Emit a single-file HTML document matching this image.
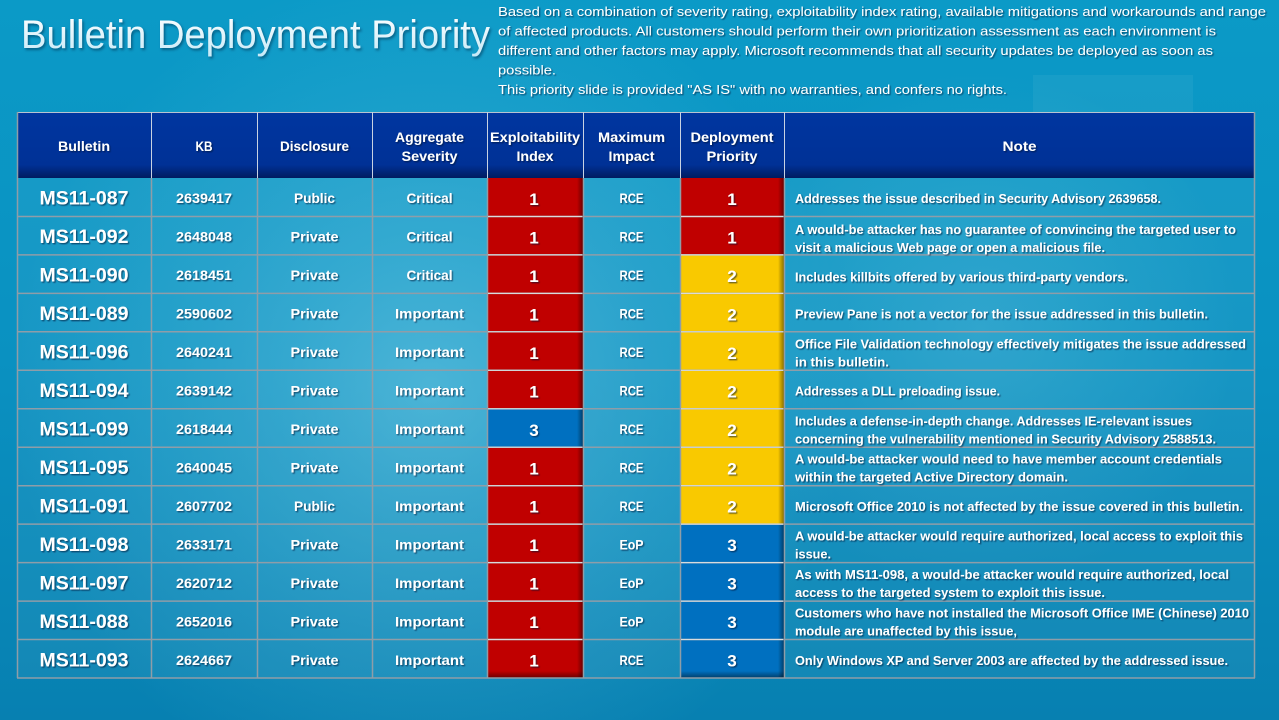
<!DOCTYPE html>
<html><head><meta charset="utf-8"><style>
html,body{margin:0;padding:0;background:#0a92c2;}
svg{display:block;}
</style></head><body>
<svg width="1279" height="720" viewBox="0 0 1279 720" xmlns="http://www.w3.org/2000/svg">
<defs>
<linearGradient id="bg" x1="0" y1="0" x2="0" y2="1">
<stop offset="0" stop-color="#0b9ac7"/><stop offset="0.5" stop-color="#0a91c1"/><stop offset="1" stop-color="#0780b1"/>
</linearGradient>
<radialGradient id="glow" cx="430" cy="390" r="420" gradientUnits="userSpaceOnUse">
<stop offset="0" stop-color="#9fe6f7" stop-opacity="0.38"/><stop offset="0.6" stop-color="#7fd8f0" stop-opacity="0.15"/><stop offset="1" stop-color="#7fd8f0" stop-opacity="0"/>
</radialGradient>
<radialGradient id="glow2" cx="980" cy="330" r="260" gradientUnits="userSpaceOnUse">
<stop offset="0" stop-color="#9fe6f7" stop-opacity="0.18"/><stop offset="1" stop-color="#9fe6f7" stop-opacity="0"/>
</radialGradient>
<linearGradient id="hdr" x1="0" y1="0" x2="0" y2="1">
<stop offset="0" stop-color="#0036a0"/><stop offset="0.8" stop-color="#003196"/><stop offset="1" stop-color="#001c60"/>
</linearGradient>
<linearGradient id="title" x1="0" y1="0" x2="0" y2="1">
<stop offset="0" stop-color="#ffffff"/><stop offset="1" stop-color="#c4e9f7"/>
</linearGradient>
<linearGradient id="rsh" x1="0" y1="0" x2="1" y2="0">
<stop offset="0" stop-color="#000" stop-opacity="0"/><stop offset="1" stop-color="#000" stop-opacity="0.45"/>
</linearGradient>
<linearGradient id="bsh" x1="0" y1="0" x2="0" y2="1">
<stop offset="0" stop-color="#000" stop-opacity="0"/><stop offset="1" stop-color="#000" stop-opacity="0.45"/>
</linearGradient>
<filter id="sh" x="-5%" y="-30%" width="110%" height="160%">
<feDropShadow dx="1.2" dy="1.2" stdDeviation="0.5" flood-color="#001830" flood-opacity="0.6"/>
</filter>
<filter id="tsh" x="-5%" y="-30%" width="110%" height="160%">
<feDropShadow dx="1.5" dy="2" stdDeviation="1.2" flood-color="#003050" flood-opacity="0.55"/>
</filter>
</defs>

<!-- background -->
<rect x="0" y="0" width="1279" height="720" fill="url(#bg)"/>
<rect x="0" y="0" width="1279" height="720" fill="url(#glow)"/>
<rect x="0" y="0" width="1279" height="720" fill="url(#glow2)"/>
<rect x="1033" y="75" width="160" height="60" fill="#ffffff" fill-opacity="0.05"/>

<!-- title -->
<text x="21" y="48" font-family="Liberation Sans, sans-serif" font-size="40" fill="url(#title)" textLength="469" lengthAdjust="spacingAndGlyphs" filter="url(#tsh)">Bulletin Deployment Priority</text>

<!-- paragraph -->
<g font-family="Liberation Sans, sans-serif" font-size="13" fill="#ffffff" filter="url(#sh)" lengthAdjust="spacingAndGlyphs">
<text x="498" y="16" textLength="768" lengthAdjust="spacingAndGlyphs">Based on a combination of severity rating, exploitability index rating, available mitigations and workarounds and range</text>
<text x="498" y="35.5" textLength="718" lengthAdjust="spacingAndGlyphs">of affected products. All customers should perform their own prioritization assessment as each environment is</text>
<text x="498" y="55" textLength="715" lengthAdjust="spacingAndGlyphs">different and other factors may apply. Microsoft recommends that all security updates be deployed as soon as</text>
<text x="498" y="74.5" textLength="58" lengthAdjust="spacingAndGlyphs">possible.</text>
<text x="498" y="94" textLength="509" lengthAdjust="spacingAndGlyphs">This priority slide is provided "AS IS" with no warranties, and confers no rights.</text>
</g>

<!-- table body cell tint -->
<rect x="17" y="178" width="1238" height="500" fill="#ffffff" fill-opacity="0.05"/>

<!-- header -->
<rect x="17" y="112" width="1238" height="66" fill="url(#hdr)"/>
<line x1="17" y1="112.5" x2="1255" y2="112.5" stroke="#b8c4d0" stroke-width="1"/>
<g stroke="#c8d2e2" stroke-width="1">
<line x1="151.5" y1="112" x2="151.5" y2="178"/>
<line x1="257.5" y1="112" x2="257.5" y2="178"/>
<line x1="372.5" y1="112" x2="372.5" y2="178"/>
<line x1="487.5" y1="112" x2="487.5" y2="178"/>
<line x1="583.5" y1="112" x2="583.5" y2="178"/>
<line x1="680.5" y1="112" x2="680.5" y2="178"/>
<line x1="784.5" y1="112" x2="784.5" y2="178"/>
</g>

<!-- colored cells: exploitability (x 487-583) and deployment (x 680-784) -->
<g>
<!-- exploitability -->
<rect x="487" y="178" width="96" height="38.5" fill="#c00000"/>
<rect x="487" y="216.5" width="96" height="38.4" fill="#c00000"/>
<rect x="487" y="254.9" width="96" height="38.5" fill="#c00000"/>
<rect x="487" y="293.4" width="96" height="38.4" fill="#c00000"/>
<rect x="487" y="331.8" width="96" height="38.5" fill="#c00000"/>
<rect x="487" y="370.3" width="96" height="38.5" fill="#c00000"/>
<rect x="487" y="408.8" width="96" height="38.4" fill="#0070c0"/>
<rect x="487" y="447.2" width="96" height="38.5" fill="#c00000"/>
<rect x="487" y="485.7" width="96" height="38.4" fill="#c00000"/>
<rect x="487" y="524.1" width="96" height="38.5" fill="#c00000"/>
<rect x="487" y="562.6" width="96" height="38.5" fill="#c00000"/>
<rect x="487" y="601.1" width="96" height="38.4" fill="#c00000"/>
<rect x="487" y="639.5" width="96" height="38.5" fill="#c00000"/>
<rect x="577" y="178" width="6" height="500" fill="url(#rsh)"/>
<rect x="487" y="671" width="96" height="7" fill="url(#bsh)"/>
<!-- deployment -->
<rect x="680" y="178" width="104" height="77" fill="#c00000"/>
<rect x="680" y="254.9" width="104" height="269.2" fill="#f9c900"/>
<rect x="680" y="524.1" width="104" height="153.9" fill="#0070c0"/>
<rect x="778" y="178" width="6" height="500" fill="url(#rsh)"/>
<rect x="680" y="671" width="104" height="7" fill="url(#bsh)"/>
</g>

<!-- gray grid -->
<g stroke="#8f9da8" stroke-width="1.5">
<line x1="17" y1="216.5" x2="1255" y2="216.5"/>
<line x1="17" y1="254.9" x2="1255" y2="254.9"/>
<line x1="17" y1="293.4" x2="1255" y2="293.4"/>
<line x1="17" y1="331.8" x2="1255" y2="331.8"/>
<line x1="17" y1="370.3" x2="1255" y2="370.3"/>
<line x1="17" y1="408.8" x2="1255" y2="408.8"/>
<line x1="17" y1="447.2" x2="1255" y2="447.2"/>
<line x1="17" y1="485.7" x2="1255" y2="485.7"/>
<line x1="17" y1="524.1" x2="1255" y2="524.1"/>
<line x1="17" y1="562.6" x2="1255" y2="562.6"/>
<line x1="17" y1="601.1" x2="1255" y2="601.1"/>
<line x1="17" y1="639.5" x2="1255" y2="639.5"/>
<line x1="17" y1="678" x2="1255" y2="678"/>
<line x1="17.5" y1="178" x2="17.5" y2="678"/>
<line x1="151.5" y1="178" x2="151.5" y2="678"/>
<line x1="257.5" y1="178" x2="257.5" y2="678"/>
<line x1="372.5" y1="178" x2="372.5" y2="678"/>
<line x1="487.5" y1="178" x2="487.5" y2="678"/>
<line x1="583.5" y1="178" x2="583.5" y2="678"/>
<line x1="680.5" y1="178" x2="680.5" y2="678"/>
<line x1="784.5" y1="178" x2="784.5" y2="678"/>
<line x1="1254.5" y1="112" x2="1254.5" y2="678"/>
<line x1="17.5" y1="112" x2="17.5" y2="178"/>
</g>
<!-- light separators in colored columns -->
<g stroke="#e6e6e6" stroke-width="1.2" stroke-opacity="0.85">
<line x1="488" y1="216.5" x2="582" y2="216.5"/><line x1="681" y1="216.5" x2="783" y2="216.5"/>
<line x1="488" y1="254.9" x2="582" y2="254.9"/><line x1="681" y1="254.9" x2="783" y2="254.9"/>
<line x1="488" y1="293.4" x2="582" y2="293.4"/><line x1="681" y1="293.4" x2="783" y2="293.4"/>
<line x1="488" y1="331.8" x2="582" y2="331.8"/><line x1="681" y1="331.8" x2="783" y2="331.8"/>
<line x1="488" y1="370.3" x2="582" y2="370.3"/><line x1="681" y1="370.3" x2="783" y2="370.3"/>
<line x1="488" y1="408.8" x2="582" y2="408.8"/><line x1="681" y1="408.8" x2="783" y2="408.8"/>
<line x1="488" y1="447.2" x2="582" y2="447.2"/><line x1="681" y1="447.2" x2="783" y2="447.2"/>
<line x1="488" y1="485.7" x2="582" y2="485.7"/><line x1="681" y1="485.7" x2="783" y2="485.7"/>
<line x1="488" y1="524.1" x2="582" y2="524.1"/><line x1="681" y1="524.1" x2="783" y2="524.1"/>
<line x1="488" y1="562.6" x2="582" y2="562.6"/><line x1="681" y1="562.6" x2="783" y2="562.6"/>
<line x1="488" y1="601.1" x2="582" y2="601.1"/><line x1="681" y1="601.1" x2="783" y2="601.1"/>
<line x1="488" y1="639.5" x2="582" y2="639.5"/><line x1="681" y1="639.5" x2="783" y2="639.5"/>
</g>

<!-- header text -->
<g font-family="Liberation Sans, sans-serif" font-size="14" font-weight="bold" fill="#ffffff" text-anchor="middle" filter="url(#sh)">
<text x="84" y="151" textLength="52" lengthAdjust="spacingAndGlyphs">Bulletin</text>
<text x="204" y="151" textLength="17" lengthAdjust="spacingAndGlyphs">KB</text>
<text x="314.5" y="151" textLength="69" lengthAdjust="spacingAndGlyphs">Disclosure</text>
<text x="429.5" y="142" textLength="69" lengthAdjust="spacingAndGlyphs">Aggregate</text>
<text x="429.5" y="161" textLength="56" lengthAdjust="spacingAndGlyphs">Severity</text>
<text x="535" y="142" textLength="90" lengthAdjust="spacingAndGlyphs">Exploitability</text>
<text x="535" y="161" textLength="37" lengthAdjust="spacingAndGlyphs">Index</text>
<text x="631.5" y="142" textLength="67" lengthAdjust="spacingAndGlyphs">Maximum</text>
<text x="631.5" y="161" textLength="46" lengthAdjust="spacingAndGlyphs">Impact</text>
<text x="732" y="142" textLength="83" lengthAdjust="spacingAndGlyphs">Deployment</text>
<text x="732" y="161" textLength="51" lengthAdjust="spacingAndGlyphs">Priority</text>
<text x="1019.5" y="151" textLength="34" lengthAdjust="spacingAndGlyphs">Note</text>
</g>

<!-- bulletin column -->
<g font-family="Liberation Sans, sans-serif" font-size="19" font-weight="bold" fill="#ffffff" text-anchor="middle" filter="url(#sh)">
<text x="84" y="204.7" textLength="89" lengthAdjust="spacingAndGlyphs">MS11-087</text>
<text x="84" y="243.2" textLength="89" lengthAdjust="spacingAndGlyphs">MS11-092</text>
<text x="84" y="281.7" textLength="89" lengthAdjust="spacingAndGlyphs">MS11-090</text>
<text x="84" y="320.1" textLength="89" lengthAdjust="spacingAndGlyphs">MS11-089</text>
<text x="84" y="358.6" textLength="89" lengthAdjust="spacingAndGlyphs">MS11-096</text>
<text x="84" y="397.0" textLength="89" lengthAdjust="spacingAndGlyphs">MS11-094</text>
<text x="84" y="435.5" textLength="89" lengthAdjust="spacingAndGlyphs">MS11-099</text>
<text x="84" y="474.0" textLength="89" lengthAdjust="spacingAndGlyphs">MS11-095</text>
<text x="84" y="512.4" textLength="89" lengthAdjust="spacingAndGlyphs">MS11-091</text>
<text x="84" y="550.9" textLength="89" lengthAdjust="spacingAndGlyphs">MS11-098</text>
<text x="84" y="589.3" textLength="89" lengthAdjust="spacingAndGlyphs">MS11-097</text>
<text x="84" y="627.8" textLength="89" lengthAdjust="spacingAndGlyphs">MS11-088</text>
<text x="84" y="666.3" textLength="89" lengthAdjust="spacingAndGlyphs">MS11-093</text>
</g>

<!-- KB / disclosure / severity / impact -->
<g font-family="Liberation Sans, sans-serif" font-size="14" font-weight="bold" fill="#ffffff" text-anchor="middle" filter="url(#sh)">
<text x="204" y="203.2" textLength="56" lengthAdjust="spacingAndGlyphs">2639417</text>
<text x="314.5" y="203.2" textLength="41" lengthAdjust="spacingAndGlyphs">Public</text>
<text x="429.5" y="203.2" textLength="46" lengthAdjust="spacingAndGlyphs">Critical</text>
<text x="631.5" y="203.2" textLength="24" lengthAdjust="spacingAndGlyphs">RCE</text>

<text x="204" y="241.7" textLength="56" lengthAdjust="spacingAndGlyphs">2648048</text>
<text x="314.5" y="241.7" textLength="48" lengthAdjust="spacingAndGlyphs">Private</text>
<text x="429.5" y="241.7" textLength="46" lengthAdjust="spacingAndGlyphs">Critical</text>
<text x="631.5" y="241.7" textLength="24" lengthAdjust="spacingAndGlyphs">RCE</text>

<text x="204" y="280.2" textLength="56" lengthAdjust="spacingAndGlyphs">2618451</text>
<text x="314.5" y="280.2" textLength="48" lengthAdjust="spacingAndGlyphs">Private</text>
<text x="429.5" y="280.2" textLength="46" lengthAdjust="spacingAndGlyphs">Critical</text>
<text x="631.5" y="280.2" textLength="24" lengthAdjust="spacingAndGlyphs">RCE</text>

<text x="204" y="318.6" textLength="56" lengthAdjust="spacingAndGlyphs">2590602</text>
<text x="314.5" y="318.6" textLength="48" lengthAdjust="spacingAndGlyphs">Private</text>
<text x="429.5" y="318.6" textLength="69" lengthAdjust="spacingAndGlyphs">Important</text>
<text x="631.5" y="318.6" textLength="24" lengthAdjust="spacingAndGlyphs">RCE</text>

<text x="204" y="357.1" textLength="56" lengthAdjust="spacingAndGlyphs">2640241</text>
<text x="314.5" y="357.1" textLength="48" lengthAdjust="spacingAndGlyphs">Private</text>
<text x="429.5" y="357.1" textLength="69" lengthAdjust="spacingAndGlyphs">Important</text>
<text x="631.5" y="357.1" textLength="24" lengthAdjust="spacingAndGlyphs">RCE</text>

<text x="204" y="395.5" textLength="56" lengthAdjust="spacingAndGlyphs">2639142</text>
<text x="314.5" y="395.5" textLength="48" lengthAdjust="spacingAndGlyphs">Private</text>
<text x="429.5" y="395.5" textLength="69" lengthAdjust="spacingAndGlyphs">Important</text>
<text x="631.5" y="395.5" textLength="24" lengthAdjust="spacingAndGlyphs">RCE</text>

<text x="204" y="434.0" textLength="56" lengthAdjust="spacingAndGlyphs">2618444</text>
<text x="314.5" y="434.0" textLength="48" lengthAdjust="spacingAndGlyphs">Private</text>
<text x="429.5" y="434.0" textLength="69" lengthAdjust="spacingAndGlyphs">Important</text>
<text x="631.5" y="434.0" textLength="24" lengthAdjust="spacingAndGlyphs">RCE</text>

<text x="204" y="472.5" textLength="56" lengthAdjust="spacingAndGlyphs">2640045</text>
<text x="314.5" y="472.5" textLength="48" lengthAdjust="spacingAndGlyphs">Private</text>
<text x="429.5" y="472.5" textLength="69" lengthAdjust="spacingAndGlyphs">Important</text>
<text x="631.5" y="472.5" textLength="24" lengthAdjust="spacingAndGlyphs">RCE</text>

<text x="204" y="510.9" textLength="56" lengthAdjust="spacingAndGlyphs">2607702</text>
<text x="314.5" y="510.9" textLength="41" lengthAdjust="spacingAndGlyphs">Public</text>
<text x="429.5" y="510.9" textLength="69" lengthAdjust="spacingAndGlyphs">Important</text>
<text x="631.5" y="510.9" textLength="24" lengthAdjust="spacingAndGlyphs">RCE</text>

<text x="204" y="549.4" textLength="56" lengthAdjust="spacingAndGlyphs">2633171</text>
<text x="314.5" y="549.4" textLength="48" lengthAdjust="spacingAndGlyphs">Private</text>
<text x="429.5" y="549.4" textLength="69" lengthAdjust="spacingAndGlyphs">Important</text>
<text x="631.5" y="549.4" textLength="24" lengthAdjust="spacingAndGlyphs">EoP</text>

<text x="204" y="587.8" textLength="56" lengthAdjust="spacingAndGlyphs">2620712</text>
<text x="314.5" y="587.8" textLength="48" lengthAdjust="spacingAndGlyphs">Private</text>
<text x="429.5" y="587.8" textLength="69" lengthAdjust="spacingAndGlyphs">Important</text>
<text x="631.5" y="587.8" textLength="24" lengthAdjust="spacingAndGlyphs">EoP</text>

<text x="204" y="626.3" textLength="56" lengthAdjust="spacingAndGlyphs">2652016</text>
<text x="314.5" y="626.3" textLength="48" lengthAdjust="spacingAndGlyphs">Private</text>
<text x="429.5" y="626.3" textLength="69" lengthAdjust="spacingAndGlyphs">Important</text>
<text x="631.5" y="626.3" textLength="24" lengthAdjust="spacingAndGlyphs">EoP</text>

<text x="204" y="664.8" textLength="56" lengthAdjust="spacingAndGlyphs">2624667</text>
<text x="314.5" y="664.8" textLength="48" lengthAdjust="spacingAndGlyphs">Private</text>
<text x="429.5" y="664.8" textLength="69" lengthAdjust="spacingAndGlyphs">Important</text>
<text x="631.5" y="664.8" textLength="24" lengthAdjust="spacingAndGlyphs">RCE</text>
</g>

<!-- exploitability & deployment digits -->
<g font-family="Liberation Sans, sans-serif" font-size="17" font-weight="bold" fill="#ffffff" text-anchor="middle" filter="url(#sh)">
<text x="534" y="205">1</text><text x="732" y="205">1</text>
<text x="534" y="243.5">1</text><text x="732" y="243.5">1</text>
<text x="534" y="282">1</text><text x="732" y="282">2</text>
<text x="534" y="320.4">1</text><text x="732" y="320.4">2</text>
<text x="534" y="358.9">1</text><text x="732" y="358.9">2</text>
<text x="534" y="397.3">1</text><text x="732" y="397.3">2</text>
<text x="534" y="435.8">3</text><text x="732" y="435.8">2</text>
<text x="534" y="474.3">1</text><text x="732" y="474.3">2</text>
<text x="534" y="512.7">1</text><text x="732" y="512.7">2</text>
<text x="534" y="551.2">1</text><text x="732" y="551.2">3</text>
<text x="534" y="589.6">1</text><text x="732" y="589.6">3</text>
<text x="534" y="628.1">1</text><text x="732" y="628.1">3</text>
<text x="534" y="666.6">1</text><text x="732" y="666.6">3</text>
</g>

<!-- notes -->
<g font-family="Liberation Sans, sans-serif" font-size="13" font-weight="bold" fill="#ffffff" filter="url(#sh)">
<text x="795" y="203.2" textLength="366" lengthAdjust="spacingAndGlyphs">Addresses the issue described in Security Advisory 2639658.</text>
<text x="795" y="233.8" textLength="441" lengthAdjust="spacingAndGlyphs">A would-be attacker has no guarantee of convincing the targeted user to</text>
<text x="795" y="251.8" textLength="310" lengthAdjust="spacingAndGlyphs">visit a malicious Web page or open a malicious file.</text>
<text x="795" y="281.5" textLength="333" lengthAdjust="spacingAndGlyphs">Includes killbits offered by various third-party vendors.</text>
<text x="795" y="318.6" textLength="413" lengthAdjust="spacingAndGlyphs">Preview Pane is not a vector for the issue addressed in this bulletin.</text>
<text x="795" y="348.3" textLength="451" lengthAdjust="spacingAndGlyphs">Office File Validation technology effectively mitigates the issue addressed</text>
<text x="795" y="366.3" textLength="94" lengthAdjust="spacingAndGlyphs">in this bulletin.</text>
<text x="795" y="395.5" textLength="205" lengthAdjust="spacingAndGlyphs">Addresses a DLL preloading issue.</text>
<text x="795" y="425.6" textLength="397" lengthAdjust="spacingAndGlyphs">Includes a defense-in-depth change. Addresses IE-relevant issues</text>
<text x="795" y="443.6" textLength="421" lengthAdjust="spacingAndGlyphs">concerning the vulnerability mentioned in Security Advisory 2588513.</text>
<text x="795" y="463.5" textLength="427" lengthAdjust="spacingAndGlyphs">A would-be attacker would need to have member account credentials</text>
<text x="795" y="481.5" textLength="273" lengthAdjust="spacingAndGlyphs">within the targeted Active Directory domain.</text>
<text x="795" y="510.9" textLength="448" lengthAdjust="spacingAndGlyphs">Microsoft Office 2010  is not affected by the issue covered in this bulletin.</text>
<text x="795" y="540.4" textLength="448" lengthAdjust="spacingAndGlyphs">A would-be attacker would require authorized, local access to exploit this</text>
<text x="795" y="558.4" textLength="36" lengthAdjust="spacingAndGlyphs">issue.</text>
<text x="795" y="578.9" textLength="434" lengthAdjust="spacingAndGlyphs">As with MS11-098, a would-be attacker would require authorized, local</text>
<text x="795" y="596.9" textLength="310" lengthAdjust="spacingAndGlyphs">access to the targeted system to exploit this issue.</text>
<text x="795" y="617.4" textLength="454" lengthAdjust="spacingAndGlyphs">Customers who have not installed the Microsoft Office IME (Chinese) 2010</text>
<text x="795" y="635.4" textLength="222" lengthAdjust="spacingAndGlyphs">module are unaffected by this issue,</text>
<text x="795" y="664.8" textLength="433" lengthAdjust="spacingAndGlyphs">Only Windows XP and Server 2003  are affected by the addressed issue.</text>
</g>
</svg>
</body></html>
